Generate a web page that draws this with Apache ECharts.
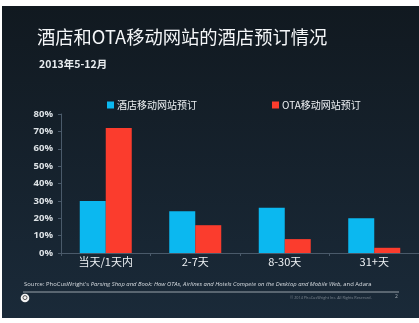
<!DOCTYPE html>
<html>
<head>
<meta charset="utf-8">
<script src="https://cdn.jsdelivr.net/npm/echarts@6/dist/echarts.min.js"></script>
<style>
html,body{margin:0;padding:0;background:#fff;}
#c{width:419px;height:323px;}
</style>
</head>
<body>
<div id="c"></div>
<script>
var categories = ['当天/1天内', '2-7天', '8-30天', '31+天'];
var hotelMobile = [30, 24, 26, 20];
var otaMobile = [72, 16, 8, 3];
var seriesNames = ['酒店移动网站预订', 'OTA移动网站预订'];
var titleText = '酒店和OTA移动网站的酒店预订情况';
var subtitleText = '2013年5-12月';

var chart = echarts.init(document.getElementById('c'), null, {renderer: 'canvas'});
var cjk = '"Noto Sans CJK SC", "Noto Sans", sans-serif';

var option = {
  backgroundColor: '#ffffff',
  animation: false,
  graphic: [
    {
      type: 'rect', z: -10, silent: true,
      shape: {x: 2, y: 6, width: 417, height: 312},
      style: {
        fill: new echarts.graphic.LinearGradient(0, 0, 0, 1, [
          {offset: 0, color: '#111920'},
          {offset: 1, color: '#1a2a39'}
        ])
      }
    },
    {
      type: 'line', silent: true,
      shape: {x1: 23, y1: 292, x2: 399, y2: 292},
      style: {stroke: '#9aa3ab', lineWidth: 1}
    },
    {
      type: 'text', silent: true, left: 24, top: 281,
      style: {
        text: '{n|Source: PhoCusWright\'s }{i|Parsing Shop and Book: How OTAs, Airlines and Hotels Compete on the Desktop and Mobile Web}{n|, and Adara}',
        rich: {
          n: {fontSize: 5.9, fill: '#d8dde2', fontFamily: 'Open Sans'},
          i: {fontSize: 5.9, fill: '#d8dde2', fontStyle: 'italic', fontFamily: 'Open Sans'}
        }
      }
    },
    {
      type: 'circle', silent: true,
      shape: {cx: 25, cy: 298, r: 4.3},
      style: {fill: '#f2f2f2'}
    },
    {
      type: 'circle', silent: true,
      shape: {cx: 25, cy: 297.6, r: 2},
      style: {fill: 'none', stroke: '#555', lineWidth: 1}
    },
    {
      type: 'text', silent: true, left: 290, top: 296,
      style: {text: '© 2014 PhoCusWright Inc. All Rights Reserved.', fontSize: 3.8, fill: '#7d8791', fontFamily: 'Open Sans'}
    },
    {
      type: 'text', silent: true, left: 395, top: 294.5,
      style: {text: '2', fontSize: 5, fill: '#aab2ba', fontFamily: 'Open Sans'}
    }
  ],
  title: [
    {
      text: titleText, left: 32, top: 23,
      textStyle: {color: '#f4f6f8', fontSize: 18.3, fontWeight: 'normal', fontFamily: cjk}
    },
    {
      text: subtitleText, left: 34, top: 54,
      textStyle: {color: '#e8ecef', fontSize: 10.5, fontWeight: 'bold', fontFamily: cjk}
    }
  ],
  legend: {
    data: seriesNames,
    left: 102, top: 95,
    itemWidth: 7, itemHeight: 7, itemGap: 75,
    icon: 'rect',
    textStyle: {color: '#eef1f4', fontSize: 10, fontFamily: cjk, padding: [0, 0, 0, -2]}
  },
  grid: {left: 61, top: 114, width: 359, height: 139, containLabel: false},
  xAxis: {
    type: 'category', data: categories,
    axisLine: {lineStyle: {color: '#4a5a6a', width: 1}},
    axisTick: {show: true, length: 3, lineStyle: {color: '#4a5a6a'}},
    axisLabel: {color: '#eef1f4', fontSize: 11, margin: 3, fontFamily: cjk}
  },
  yAxis: {
    type: 'value', min: 0, max: 80, interval: 10,
    axisLine: {show: true, lineStyle: {color: '#4a5a6a', width: 1}},
    axisTick: {show: true, length: 3, lineStyle: {color: '#4a5a6a'}},
    splitLine: {show: false},
    axisLabel: {formatter: '{value}%', color: '#dde2e6', fontSize: 9.5, margin: 8, fontWeight: 'bold', fontFamily: 'Open Sans'}
  },
  series: [
    {
      name: seriesNames[0], type: 'bar', data: hotelMobile,
      barWidth: 26, barGap: '0%',
      itemStyle: {color: '#0bb8f0'}
    },
    {
      name: seriesNames[1], type: 'bar', data: otaMobile,
      barWidth: 26, barGap: '0%',
      itemStyle: {color: '#fb3c2d'}
    }
  ]
};
chart.setOption(option);
</script>
</body>
</html>
